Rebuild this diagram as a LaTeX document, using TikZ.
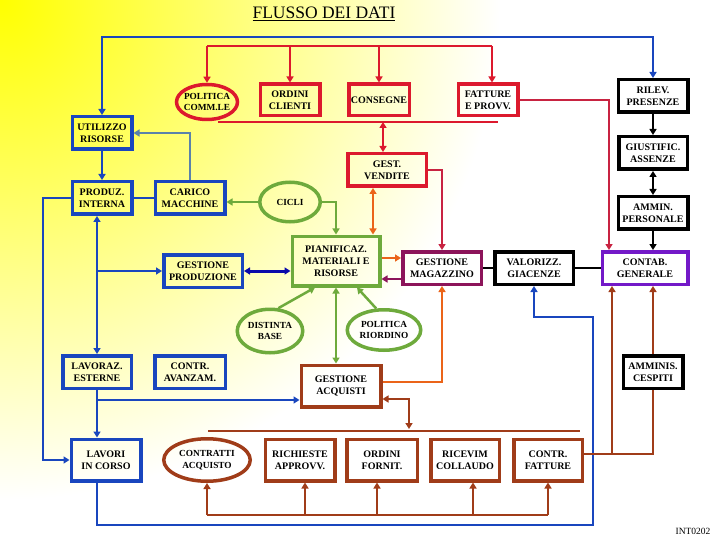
\documentclass[tikz,border=0pt]{standalone}
\usepackage{fontspec}
\setmainfont{Liberation Serif}
\usetikzlibrary{shapes.geometric,arrows.meta,calc}
\definecolor{cred}{RGB}{220,25,45}
\definecolor{ccrim}{RGB}{200,35,65}
\definecolor{cblue}{RGB}{25,70,190}
\definecolor{cgreen}{RGB}{110,170,60}
\definecolor{cbrown}{RGB}{160,60,25}
\definecolor{cpurple}{RGB}{115,25,200}
\definecolor{cmag}{RGB}{140,20,90}
\definecolor{corange}{RGB}{235,100,25}
\definecolor{csteel}{RGB}{90,130,170}
\definecolor{cnavy}{RGB}{10,10,170}
\begin{document}
\begin{tikzpicture}[x=1pt,y=-1pt,
  box/.style={draw, rectangle, line width=3.5pt, align=center, inner sep=1pt, text=black,
    font=\fontsize{10}{12}\selectfont\bfseries},
  ell/.style={draw, ellipse, line width=3.5pt, align=center, inner xsep=-6pt, inner ysep=0pt, text=black,
    font=\fontsize{9.3}{11.5}\selectfont\bfseries},
  con/.style={line width=2pt},
  thk/.style={line width=2.6pt},
  >={Triangle[length=6pt,width=7pt]}
]
\useasboundingbox (0,0) rectangle (720,540);
\fill[white] (0,0) rectangle (720,540);
\begin{scope}
  \clip (0,0) rectangle (720,540);
  \shade[inner color=yellow, outer color=white] (0,0) circle (500pt);
\end{scope}

% title
\node[font=\fontsize{17.5}{20}\selectfont] (title) at (324,14) {\underline{FLUSSO DEI DATI}};
\node[font=\fontsize{9.5}{11}\selectfont] (code) at (693,531) {INT0202};

% red row
\node[ell,draw=cred,minimum width=61pt,minimum height=35pt] (pcomm) at (207,102) {POLITICA\\COMM.LE};
\node[box,draw=cred,minimum width=59.5pt,minimum height=31.5pt] (ordcli) at (290,100) {ORDINI\\CLIENTI};
\node[box,draw=cred,minimum width=60.5pt,minimum height=31.5pt] (consegne) at (379,100) {CONSEGNE};
\node[box,draw=cred,minimum width=59.5pt,minimum height=31.5pt] (fatture) at (488,100) {FATTURE\\E PROVV.};
\node[box,draw=cred,minimum width=78.5pt,minimum height=32.5pt] (vendite) at (387,170) {GEST.\\VENDITE};

% black column
\node[box,minimum width=69.5pt,minimum height=32.5pt] (rilev) at (653,96) {RILEV.\\PRESENZE};
\node[box,minimum width=68.5pt,minimum height=32.5pt] (giust) at (653,153) {GIUSTIFIC.\\ASSENZE};
\node[box,minimum width=69.5pt,minimum height=32.5pt] (ammin) at (653,213) {AMMIN.\\PERSONALE};
\node[box,draw=cpurple,minimum width=85.5pt,minimum height=32.5pt] (contab) at (645,268) {CONTAB.\\GENERALE};
\node[box,minimum width=78.5pt,minimum height=32.5pt] (valoriz) at (534,268) {VALORIZZ.\\GIACENZE};
\node[box,draw=cmag,minimum width=78.5pt,minimum height=32.5pt] (magaz) at (442,268) {GESTIONE\\MAGAZZINO};
\node[box,minimum width=59.5pt,minimum height=32.5pt] (cespiti) at (653,372) {AMMINIS.\\CESPITI};

% green
\node[box,draw=cgreen,minimum width=87.5pt,minimum height=49.5pt] (pianif) at (336,261) {PIANIFICAZ.\\MATERIALI E\\RISORSE};
\node[ell,draw=cgreen,minimum width=60.5pt,minimum height=39.5pt] (cicli) at (290,202) {CICLI};
\node[ell,draw=cgreen,minimum width=65.5pt,minimum height=43.5pt] (distinta) at (270,331) {DISTINTA\\BASE};
\node[ell,draw=cgreen,minimum width=73.5pt,minimum height=40.5pt] (polrior) at (384,330) {POLITICA\\RIORDINO};

% blue
\node[box,draw=cblue,minimum width=59.5pt,minimum height=32.5pt] (util) at (102,133) {UTILIZZO\\RISORSE};
\node[box,draw=cblue,minimum width=59.5pt,minimum height=32.5pt] (produz) at (102,198) {PRODUZ.\\INTERNA};
\node[box,draw=cblue,minimum width=69.5pt,minimum height=32.5pt] (carico) at (190,198) {CARICO\\MACCHINE};
\node[box,draw=cblue,minimum width=78.5pt,minimum height=32.5pt] (gestprod) at (203,271) {GESTIONE\\PRODUZIONE};
\node[box,draw=cblue,minimum width=68.5pt,minimum height=32.5pt] (lavoraz) at (97,372) {LAVORAZ.\\ESTERNE};
\node[box,draw=cblue,minimum width=70.5pt,minimum height=32.5pt] (contrav) at (190,372) {CONTR.\\AVANZAM.};
\node[box,draw=cblue,minimum width=69.5pt,minimum height=41.5pt] (lavori) at (106,460) {LAVORI\\IN CORSO};

% brown
\node[box,draw=cbrown,minimum width=79.5pt,minimum height=41.5pt] (acquisti) at (341,386) {GESTIONE\\ACQUISTI};
\node[ell,draw=cbrown,minimum width=86.5pt,minimum height=42.5pt] (contratti) at (207,460) {CONTRATTI\\ACQUISTO};
\node[box,draw=cbrown,minimum width=69.5pt,minimum height=41.5pt] (richieste) at (300,460) {RICHIESTE\\APPROVV.};
\node[box,draw=cbrown,minimum width=70.5pt,minimum height=41.5pt] (ordforn) at (382,460) {ORDINI\\FORNIT.};
\node[box,draw=cbrown,minimum width=68.5pt,minimum height=41.5pt] (ricevim) at (465,460) {RICEVIM\\COLLAUDO};
\node[box,draw=cbrown,minimum width=68.5pt,minimum height=41.5pt] (contrfatt) at (548,460) {CONTR.\\FATTURE};

% ---- blue connectors
\coordinate (bt) at (400,37);
\draw[con,cblue,<->] (util.north) |- (bt) -| (rilev.north);
\draw[con,cblue,->] (util) -- (produz);
\draw[con,cblue] (produz) -- (carico);
\draw[con,csteel,->] (carico.north) |- (util.east);
\draw[con,cblue,->] (produz.west) -- ++(-28,0) |- (lavori.west);
\draw[con,cblue,<->] (lavoraz.north |- produz.south) -- (lavoraz.north);
\draw[con,cblue,->] (lavoraz.north |- gestprod.west) -- (gestprod.west);
\draw[cnavy,line width=3pt,<->] (gestprod.east) -- (pianif.west |- gestprod.east);
\draw[con,cblue,->] (lavoraz.south) -- (lavoraz.south |- lavori.north);
\coordinate (ab) at ($(acquisti.west)+(0,14)$);
\draw[con,cblue,->] (lavoraz.south |- ab) -- (ab);
\coordinate (vb1) at (593,525);
\coordinate (vb2) at (593,317);
\draw[con,cblue,->] (lavoraz.south |- lavori.south) |- (vb1) -- (vb2) -| (valoriz.south);

% ---- red connectors
\coordinate (rt) at (0,46);
\coordinate (fx) at ($(fatture.north)+(4,0)$);
\draw[con,cred] (pcomm.north |- rt) -- (fx |- rt);
\draw[con,cred,->] (pcomm.north |- rt) -- (pcomm.north);
\draw[con,cred,->] (ordcli.north |- rt) -- (ordcli.north);
\draw[con,cred,->] (consegne.north |- rt) -- (consegne.north);
\draw[con,cred,->] (fx |- rt) -- (fx);
\coordinate (rl1) at (218,122);
\coordinate (rl2) at (498,122);
\draw[con,cred] (rl1) -- (rl2);
\coordinate (vx) at ($(vendite.north)+(-4,0)$);
\draw[con,cred,<->] (vx |- rl1) -- (vx);
\draw[con,ccrim,->] (fatture.east) -| ($(contab.north)+(-36,0)$);
\draw[con,ccrim,->] (vendite.east) -| (magaz.north);

% ---- orange / magenta
\coordinate (ox) at (373,0);
\draw[con,corange,<->] (vendite.south -| ox) -- (pianif.north -| ox);
\coordinate (y1) at (0,258);
\coordinate (y2) at (0,279);
\draw[con,corange,->] (pianif.east |- y1) -- (magaz.west |- y1);
\draw[con,cmag,->] (magaz.west |- y2) -- (pianif.east |- y2);
\draw[con,corange,->] ($(acquisti.east)+(0,-4)$) -| (magaz.south);

% ---- green
\draw[con,cgreen,line width=2.5pt,->] (cicli.west) -- (carico.east |- cicli.west);
\draw[con,cgreen,line width=2.5pt,->] (cicli.east) -| (pianif.north);
\draw[con,cgreen,line width=2.5pt,->] (distinta.70) -- ($(pianif.south)+(-21,0)$);
\draw[con,cgreen,line width=2.5pt,->] (polrior.110) -- ($(pianif.south)+(21,0)$);
\draw[con,cgreen,line width=2.5pt,<->] (pianif.south) -- (pianif.south |- acquisti.north);

% ---- brown
\coordinate (bl) at (208,431);
\coordinate (br) at (580,431);
\draw[thk,cbrown] (bl) -- (br);
\coordinate (bb) at (409,429);
\draw[thk,cbrown,<->] ($(acquisti.east)+(0,13)$) -| (bb);
\coordinate (lb) at (0,515);
\draw[thk,cbrown] (contratti.south |- lb) -- (contrfatt.south |- lb);
\draw[thk,cbrown,->] (contratti.south |- lb) -- (contratti.south);
\draw[thk,cbrown,->] ($(richieste.south |- lb)+(5,0)$) -- ($(richieste.south)+(5,0)$);
\draw[thk,cbrown,->] ($(ordforn.south |- lb)+(-5,0)$) -- ($(ordforn.south)+(-5,0)$);
\draw[thk,cbrown,->] ($(ricevim.south |- lb)+(8,0)$) -- ($(ricevim.south)+(8,0)$);
\draw[thk,cbrown,->] (contrfatt.south |- lb) -- (contrfatt.south);
\coordinate (cf) at ($(contrfatt.east)+(0,-6)$);
\draw[thk,cbrown,->] (cf) -| ($(contab.south)+(-33,0)$);
\draw[thk,cbrown] (cf) -| (cespiti.south);
\draw[thk,cbrown,->] (cespiti.north) -- (cespiti.north |- contab.south);

% ---- black
\draw[con,->] (rilev) -- (giust);
\draw[con,<->] (giust) -- (ammin);
\draw[con,->] (ammin.south) -- (ammin.south |- contab.north);
\draw[con] (magaz) -- (valoriz);
\draw[con] (valoriz) -- (contab);
\end{tikzpicture}
\end{document}
